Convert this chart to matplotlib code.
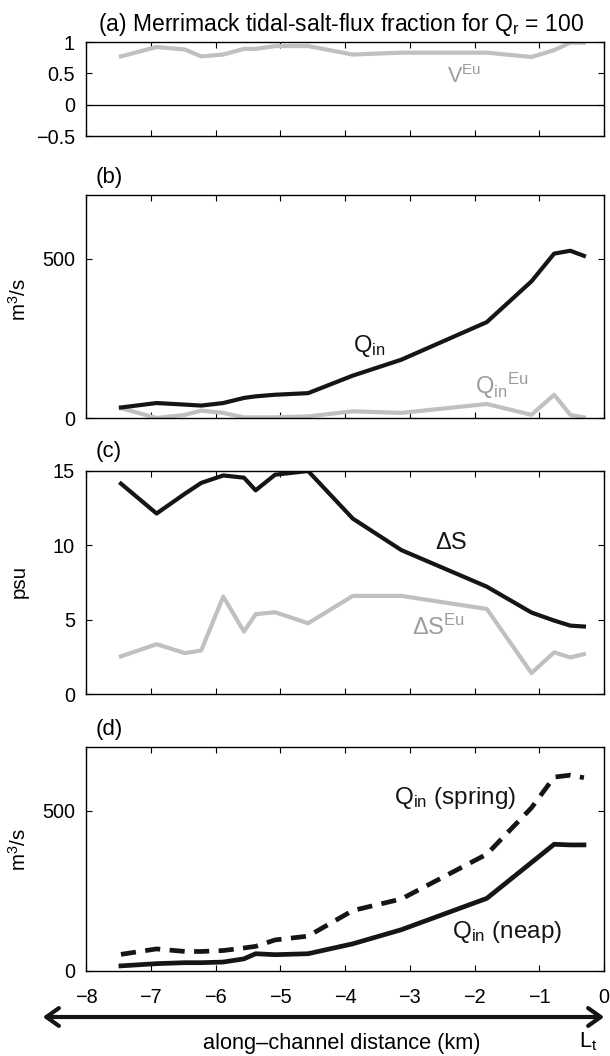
import matplotlib
matplotlib.use("Agg")
import matplotlib.pyplot as plt
import numpy as np

# ---------------- data ----------------
x_km = [-7.46, -6.91, -6.47, -6.22, -5.88, -5.56, -5.38, -5.08, -4.57,
        -3.88, -3.13, -1.81, -1.12, -0.77, -0.52, -0.31]

v_eu = [0.77, 0.92, 0.88, 0.77, 0.80, 0.89, 0.89, 0.935, 0.935,
        0.80, 0.83, 0.83, 0.76, 0.87, 0.99, 0.99]

q_in = [33, 47, 42, 39, 47, 63, 68, 73, 78, 133, 183, 301, 429, 516, 525, 509]
q_in_eu = [31, 0, 10, 23, 16, 2, 2, 2, 5, 21, 16, 44, 10, 73, 10, 2]

ds = [14.15, 12.14, 13.48, 14.2, 14.7, 14.55, 13.7, 14.75, 15.0,
      11.8, 9.68, 7.22, 5.48, 4.94, 4.6, 4.54]
ds_eu = [2.53, 3.35, 2.75, 2.93, 6.55, 4.2, 5.37, 5.5, 4.76,
         6.6, 6.6, 5.72, 1.41, 2.8, 2.46, 2.68]

q_spring = [52, 69, 61, 61, 64, 72, 77, 97, 109, 189, 225, 365, 510, 606, 612, 604]
q_neap = [16, 23, 26, 26, 28, 38, 54, 51, 54, 85, 129, 227, 339, 396, 394, 394]

xticks = [-8, -7, -6, -5, -4, -3, -2, -1, 0]
xticklabels = ["\u22128", "\u22127", "\u22126", "\u22125", "\u22124",
               "\u22123", "\u22122", "\u22121", "0"]

# ---------------- style ----------------
plt.rcParams['font.family'] = ['Liberation Sans', 'DejaVu Sans']
plt.rcParams['mathtext.fontset'] = 'custom'
plt.rcParams['mathtext.rm'] = 'Liberation Sans'
plt.rcParams['mathtext.it'] = 'Liberation Sans:italic'
plt.rcParams['mathtext.sf'] = 'Liberation Sans'
plt.rcParams['axes.unicode_minus'] = True

FS = 14.3
GRAY = '#c0c0c0'
TGRAY = '#9c9c9c'
BLACK = '#151515'
LW = 3.0

W, H = 610, 1056
fig = plt.figure(figsize=(W / 100, H / 100), dpi=100)

def axes_px(top, bottom, left=86, right=604):
    return fig.add_axes([left / W, (H - bottom) / H, (right - left) / W, (bottom - top) / H])

axA = axes_px(42, 136)
axB = axes_px(195, 418)
axC = axes_px(471, 694)
axD = axes_px(747, 971)

for ax in (axA, axB, axC, axD):
    ax.set_xlim(-8, 0)
    ax.set_xticks(xticks)
    ax.tick_params(direction='in', top=True, right=True, length=4, width=0.8,
                   labelsize=FS, pad=8, colors='black')
    for s in ax.spines.values():
        s.set_linewidth(1.0)
        s.set_color('black')
    if ax is not axD:
        ax.set_xticklabels([])

axD.set_xticklabels(xticklabels)
axD.tick_params(axis='x', pad=12)

# (a)
axA.set_ylim(-0.5, 1)
axA.set_yticks([-0.5, 0, 0.5, 1])
axA.set_yticklabels(["\u22120.5", "0", "0.5", "1"])
axA.axhline(0, color='black', lw=0.9)
axA.plot(x_km, v_eu, color=GRAY, lw=LW)
axA.text(-2.43, 0.45, r'$\mathrm{V}^{\mathrm{Eu}}$', color=TGRAY, fontsize=15.5,
         ha='left', va='center')

# (b)
axB.set_ylim(0, 700)
axB.set_yticks([0, 500])
axB.plot(x_km, q_in_eu, color=GRAY, lw=LW)
axB.plot(x_km, q_in, color=BLACK, lw=LW)
axB.text(-3.88, 225, r'$\mathrm{Q}_{\mathrm{in}}$', color=BLACK, fontsize=17,
         ha='left', va='center')
axB.text(-1.99, 100, r'$\mathrm{Q}_{\mathrm{in}}{}^{\mathrm{Eu}}$', color=TGRAY,
         fontsize=17, ha='left', va='center')

# (c)
axC.set_ylim(0, 15)
axC.set_yticks([0, 5, 10, 15])
axC.plot(x_km, ds_eu, color=GRAY, lw=LW)
axC.plot(x_km, ds, color=BLACK, lw=LW)
axC.text(-2.61, 10.15, '\u0394S', color=BLACK, fontsize=17, ha='left', va='center')
axC.text(-2.97, 4.5, '\u0394S$^{\\mathrm{Eu}}$', color=TGRAY, fontsize=17,
         ha='left', va='center')

# (d)
axD.set_ylim(0, 700)
axD.set_yticks([0, 500])
axD.plot(x_km, q_spring, color=BLACK, lw=LW + 0.4, dashes=[3.2, 2.0])
axD.plot(x_km, q_neap, color=BLACK, lw=LW + 0.4)
axD.text(-3.25, 540, r'$\mathrm{Q}_{\mathrm{in}}$ (spring)', color=BLACK,
         fontsize=17.5, ha='left', va='center')
axD.text(-2.35, 122, r'$\mathrm{Q}_{\mathrm{in}}$ (neap)', color=BLACK,
         fontsize=17.5, ha='left', va='center')

# titles / panel labels
def ftext(xp, yp, s, **kw):
    fig.text(xp / W, 1 - yp / H, s, **kw)

ftext(98, 25, r'(a) Merrimack tidal-salt-flux fraction for Q$_{\mathrm{r}}$ = 100',
      fontsize=16.5, ha='left', va='center')
ftext(96, 178, '(b)', fontsize=16, ha='left', va='center')
ftext(96, 452, '(c)', fontsize=16, ha='left', va='center')
ftext(96, 729, '(d)', fontsize=16, ha='left', va='center')

# y labels
ftext(19, 300, r'm$^3$/s', fontsize=FS + 0.5, rotation=90, ha='center', va='center')
ftext(19, 582, 'psu', fontsize=FS + 0.5, rotation=90, ha='center', va='center')
ftext(19, 850, r'm$^3$/s', fontsize=FS + 0.5, rotation=90, ha='center', va='center')

# bottom arrow and labels
fig.add_artist(matplotlib.patches.FancyArrowPatch(
    (40 / W, 1 - 1017 / H), (607 / W, 1 - 1017 / H), transform=fig.transFigure,
    arrowstyle='<->,head_length=0.45,head_width=0.32', mutation_scale=20,
    lw=3.0, color=BLACK))
ftext(342, 1043, 'along\u2013channel distance (km)', fontsize=15.7,
      ha='center', va='center')
ftext(588, 1042, r'L$_{\mathrm{t}}$', fontsize=15.7, ha='center', va='center')

fig.savefig('out.png', dpi=100)
